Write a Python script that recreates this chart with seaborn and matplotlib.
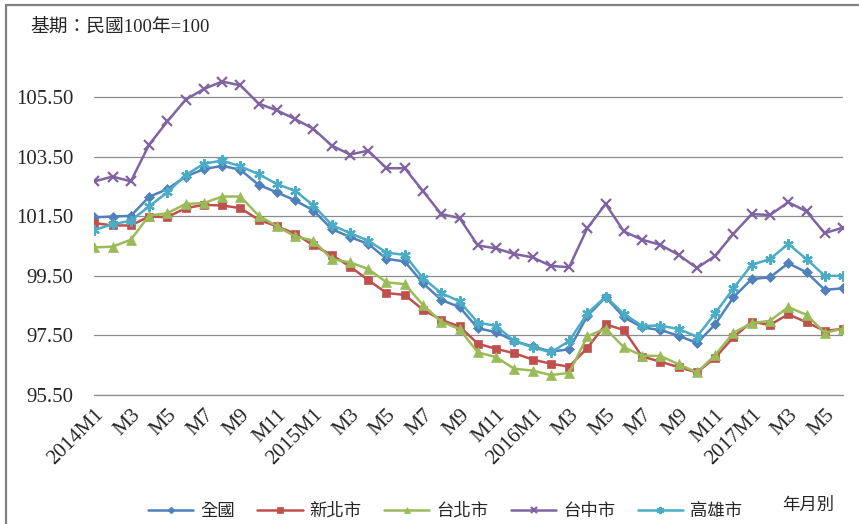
import matplotlib
matplotlib.use("Agg")
import matplotlib.pyplot as plt
import pandas as pd
import seaborn as sns
from matplotlib.lines import Line2D

# Data, 2014M1 .. 2017M6
months = ["2014M1", "M2", "M3", "M4", "M5", "M6", "M7", "M8", "M9", "M10", "M11", "M12",
          "2015M1", "M2", "M3", "M4", "M5", "M6", "M7", "M8", "M9", "M10", "M11", "M12",
          "2016M1", "M2", "M3", "M4", "M5", "M6", "M7", "M8", "M9", "M10", "M11", "M12",
          "2017M1", "M2", "M3", "M4", "M5", "M6"]

national = [101.46, 101.49, 101.51, 102.15, 102.41, 102.83, 103.08, 103.19, 103.06, 102.55, 102.30, 102.03, 101.69,
            101.07, 100.80, 100.57, 100.07, 99.98, 99.25, 98.69, 98.45, 97.74, 97.61, 97.31, 97.13, 96.96,
            97.03, 98.15, 98.78, 98.11, 97.77, 97.68, 97.49, 97.24, 97.87, 98.78, 99.39, 99.45, 99.92, 99.62, 99.03, 99.08]
new_taipei = [101.27, 101.19, 101.19, 101.49, 101.47, 101.77, 101.88, 101.86, 101.77, 101.38, 101.16, 100.91, 100.52,
              100.20, 99.81, 99.36, 98.92, 98.86, 98.36, 98.02, 97.80, 97.22, 97.05, 96.90, 96.69, 96.55,
              96.45, 97.08, 97.87, 97.68, 96.79, 96.62, 96.43, 96.26, 96.75, 97.44, 97.96, 97.85, 98.21, 97.94, 97.65, 97.72]
taipei = [100.45, 100.48, 100.71, 101.52, 101.60, 101.91, 101.94, 102.16, 102.16, 101.52, 101.16, 100.82, 100.68,
          100.06, 99.95, 99.73, 99.28, 99.22, 98.52, 97.96, 97.71, 96.93, 96.77, 96.38, 96.32, 96.17,
          96.24, 97.47, 97.73, 97.10, 96.82, 96.81, 96.53, 96.26, 96.84, 97.59, 97.91, 97.99, 98.45, 98.19, 97.59, 97.72]
taichung = [102.67, 102.83, 102.67, 103.90, 104.68, 105.41, 105.77, 106.02, 105.89, 105.28, 105.05, 104.76, 104.43,
            103.87, 103.57, 103.70, 103.11, 103.11, 102.34, 101.57, 101.44, 100.52, 100.42, 100.23, 100.12, 99.83,
            99.79, 101.10, 101.91, 100.99, 100.71, 100.54, 100.20, 99.76, 100.17, 100.91, 101.57, 101.54, 101.97, 101.66, 100.93, 101.12]
kaohsiung = [101.04, 101.23, 101.35, 101.83, 102.30, 102.88, 103.26, 103.37, 103.17, 102.91, 102.58, 102.35, 101.86,
             101.21, 100.93, 100.68, 100.28, 100.20, 99.42, 98.92, 98.64, 97.93, 97.82, 97.31, 97.10, 96.93,
             97.31, 98.24, 98.80, 98.22, 97.82, 97.83, 97.71, 97.46, 98.24, 99.08, 99.87, 100.06, 100.57, 100.06, 99.50, 99.50]

names = ["全國", "新北市", "台北市", "台中市", "高雄市"]
series = [national, new_taipei, taipei, taichung, kaohsiung]
colors = ["#4F81BD", "#C0504D", "#9BBB59", "#8064A2", "#4BACC6"]
markers = ["D", "s", "^", "x", (6, 2, 0)]
msizes = [5, 6, 6.5, 6.5, 7.5]

sns.set_style("white")
serif_cjk = ["Liberation Serif", "Noto Sans CJK TC", "DejaVu Sans"]
cjk = ["Noto Sans CJK TC", "DejaVu Sans"]
plt.rcParams["font.family"] = serif_cjk

fig = plt.figure(figsize=(8.59, 5.24), dpi=100)
ax = fig.add_axes([0.1098, 0.2462, 0.8716, 0.6824])

x = list(range(len(months)))
for name, vals, c, m, ms in zip(names, series, colors, markers, msizes):
    df = pd.DataFrame({"x": x, "y": vals})
    sns.lineplot(data=df, x="x", y="y", ax=ax, color=c, lw=1.8, marker=m,
                 markersize=ms, markeredgecolor=c, markerfacecolor=c,
                 markeredgewidth=1.6 if m in ("x", (6, 2, 0)) else 0.5,
                 label=name, legend=False)

ax.set_xlim(0, len(months) - 1)
ax.set_ylim(95.5, 107.5)
ax.set_yticks([95.5, 97.5, 99.5, 101.5, 103.5, 105.5])
ax.set_yticklabels(["95.50", "97.50", "99.50", "101.50", "103.50", "105.50"])
ax.yaxis.grid(True, color="#8c8c8c", lw=0.9)
ax.set_axisbelow(True)
ax.tick_params(axis="y", length=0, pad=15, labelsize=15)

ax.set_xticks(x[::2])
ax.set_xticklabels(months[::2], rotation=45, ha="right", va="top",
                   rotation_mode="anchor", fontsize=15)
ax.set_xticks(x, minor=True)
ax.tick_params(axis="x", which="both", length=4.5, width=0.8, color="#8c8c8c",
               direction="out", pad=3)
ax.set_xlabel("")
ax.set_ylabel("")
for s in ["left", "right", "top"]:
    ax.spines[s].set_visible(False)
ax.spines["bottom"].set_color("#8c8c8c")
ax.spines["bottom"].set_linewidth(0.9)

fig.text(0.035, 0.948, "基期：民國100年=100", fontsize=13.5, family=serif_cjk,
         ha="left", va="center")
fig.text(0.91, 0.036, "年月別", fontsize=12.5, family=cjk, ha="left", va="center")

handles, labels = ax.get_legend_handles_labels()
fig.legend(handles, labels, loc="center", bbox_to_anchor=(0.518, 0.025), ncol=5,
           frameon=False, prop={"family": cjk, "size": 12.5}, handlelength=2.6,
           columnspacing=1.3, handletextpad=0.4, markerscale=0.7)

fig.add_artist(Line2D([0.0075, 0.0075], [0.0, 0.99], transform=fig.transFigure,
                      color="#808080", lw=1.6))
fig.add_artist(Line2D([0.0075, 1.0], [0.99, 0.99], transform=fig.transFigure,
                      color="#808080", lw=1.6))

fig.savefig("out.png", dpi=100)
